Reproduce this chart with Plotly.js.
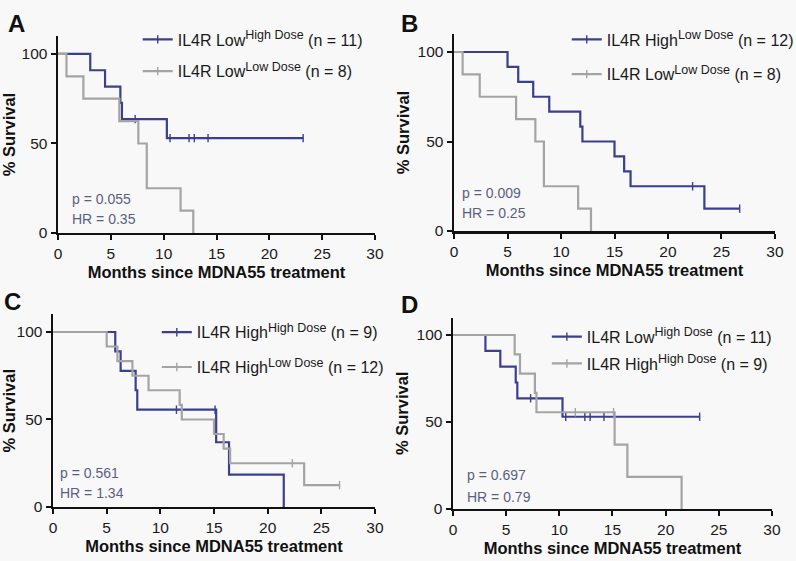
<!DOCTYPE html>
<html>
<head>
<meta charset="utf-8">
<script src="https://cdn.plot.ly/plotly-3.0.1.min.js"></script>
<style>
  html, body { margin: 0; padding: 0; background: #f8f8f8; }
  #chart { width: 796px; height: 561px; }
</style>
</head>
<body>
<div id="chart"></div>
<script>
// ---------- data ----------
// IL4R Low, High Dose (n = 11)
const lowHighTime = [0, 3.05, 4.45, 5.9, 6.05, 10.3, 23.2];
const lowHighSurv = [100, 90.9, 81.8, 72.7, 63.6, 53.0, 53.0];
const lowHighCensorTime = [7.3, 10.6, 12.4, 12.9, 14.2, 23.2];
const lowHighCensorSurv = [63.6, 53.0, 53.0, 53.0, 53.0, 53.0];

// IL4R Low, Low Dose (n = 8)
const lowLowTime = [0, 0.8, 2.4, 5.8, 7.6, 8.4, 11.6, 12.8];
const lowLowSurv = [100, 87.5, 75.0, 62.5, 50.0, 25.0, 12.5, 0];
const lowLowCensorTime = [];
const lowLowCensorSurv = [];

// IL4R High, Low Dose (n = 12)
const highLowTime = [0, 5.0, 6.0, 7.4, 8.9, 11.8, 12.0, 15.0, 15.9, 16.5, 23.4, 26.7];
const highLowSurv = [100, 91.7, 83.3, 75.0, 66.7, 58.3, 50.0, 41.7, 33.3, 25.0, 12.5, 12.5];
const highLowCensorTime = [22.3, 26.7];
const highLowCensorSurv = [25.0, 12.5];

// IL4R High, High Dose (n = 9)
const highHighTime = [0, 5.8, 6.3, 7.7, 7.85, 15.2, 16.4, 21.5];
const highHighSurv = [100, 88.9, 77.8, 66.7, 55.6, 37.0, 18.5, 0];
const highHighCensorTime = [11.5, 15.1];
const highHighCensorSurv = [55.6, 55.6];

const panelLabels = ['A', 'B', 'C', 'D'];
const pValues = ['0.055', '0.009', '0.561', '0.697'];
const hrValues = ['0.35', '0.25', '1.34', '0.79'];
const xTicks = [0, 5, 10, 15, 20, 25, 30];
const yTicks = [0, 50, 100];

const SUP = s => '<sup><span style="font-size:12.5px">' + s + '</span></sup>';

const groups = {
  lowHigh: {t: lowHighTime, s: lowHighSurv, ct: lowHighCensorTime, cs: lowHighCensorSurv,
            name: 'IL4R Low' + SUP('High Dose') + ' (n = 11)'},
  lowLow: {t: lowLowTime, s: lowLowSurv, ct: lowLowCensorTime, cs: lowLowCensorSurv,
            name: 'IL4R Low' + SUP('Low Dose') + ' (n = 8)'},
  highLow: {t: highLowTime, s: highLowSurv, ct: highLowCensorTime, cs: highLowCensorSurv,
            name: 'IL4R High' + SUP('Low Dose') + ' (n = 12)'},
  highHigh: {t: highHighTime, s: highHighSurv, ct: highHighCensorTime, cs: highHighCensorSurv,
            name: 'IL4R High' + SUP('High Dose') + ' (n = 9)'}
};

// panel composition: [blue group, grey group]
const panels = [
  ['lowHigh', 'lowLow'],
  ['highLow', 'lowLow'],
  ['highHigh', 'highLow'],
  ['lowHigh', 'highHigh']
];

const BLUE = '#3b3f8e';
const GREY = '#a4a4a4';
const FONT = 'Liberation Sans, Arial, Helvetica, sans-serif';

const traces = [];
panels.forEach((pair, i) => {
  const ax = i === 0 ? '' : String(i + 1);
  const legendId = i === 0 ? 'legend' : 'legend' + (i + 1);
  pair.forEach((key, j) => {
    const g = groups[key];
    const color = j === 0 ? BLUE : GREY;
    traces.push({
      x: g.t, y: g.s, xaxis: 'x' + ax, yaxis: 'y' + ax,
      mode: 'lines', line: {shape: 'hv', color: color, width: 2.2},
      showlegend: false, hoverinfo: 'skip', cliponaxis: false
    });
    if (g.ct.length) {
      traces.push({
        x: g.ct, y: g.cs, xaxis: 'x' + ax, yaxis: 'y' + ax,
        mode: 'markers',
        marker: {symbol: 'line-ns', size: 6, color: color, line: {color: color, width: 1.4}},
        showlegend: false, hoverinfo: 'skip', cliponaxis: false
      });
    }
    traces.push({
      x: [null], y: [null], xaxis: 'x' + ax, yaxis: 'y' + ax,
      mode: 'lines+markers', name: g.name, legend: legendId,
      legendgroup: 'p' + i + 'g' + j,
      line: {color: color, width: 2.2},
      marker: {symbol: 'line-ns', size: 6, color: color, line: {color: color, width: 1.4}}
    });
  });
});

const xDomains = [[0.0729, 0.4711], [0.5704, 0.9736], [0.0666, 0.4711], [0.5691, 0.9698]];
const yDomains = [[0.5847, 0.9357], [0.5882, 0.9392], [0.0963, 0.4394], [0.0927, 0.4339]];

const layout = {
  width: 796, height: 561,
  margin: {l: 0, r: 0, t: 0, b: 0, autoexpand: false},
  paper_bgcolor: '#f8f8f8', plot_bgcolor: '#f8f8f8',
  font: {family: FONT, color: '#1a1a1a', size: 15},
  showlegend: true,
  annotations: [],
  shapes: []
};

function axisX(i) {
  return {
    domain: xDomains[i], range: [0, 30], anchor: i === 0 ? 'y' : 'y' + (i + 1),
    tickvals: xTicks, ticktext: xTicks.map(String),
    showline: true, linecolor: '#111', linewidth: 2.5,
    ticks: 'outside', ticklen: 5, tickwidth: 2, tickcolor: '#111',
    tickfont: {size: 15.5, color: '#1a1a1a'},
    showgrid: false, zeroline: false, fixedrange: true, automargin: false,
    title: {text: '<b>Months since MDNA55 treatment</b>', font: {size: 16.5, color: '#111'}, standoff: 6}
  };
}
function axisY(i) {
  return {
    domain: yDomains[i], range: [0, 110], anchor: i === 0 ? 'x' : 'x' + (i + 1),
    tickvals: yTicks, ticktext: yTicks.map(String),
    showline: true, linecolor: '#111', linewidth: 2.5,
    ticks: 'outside', ticklen: 5, tickwidth: 2, tickcolor: '#111',
    tickfont: {size: 15.5, color: '#1a1a1a'},
    showgrid: false, zeroline: false, fixedrange: true, automargin: false,
    title: {text: '<b>% Survival</b>', font: {size: 16.5, color: '#111'}, standoff: 4}
  };
}

for (let i = 0; i < 4; i++) {
  const ax = i === 0 ? '' : String(i + 1);
  layout['xaxis' + ax] = axisX(i);
  layout['yaxis' + ax] = axisY(i);
}

// legend placements (paper coords) and gaps between entries
const legendPos = [[0.173, 0.960], [0.712, 0.960], [0.197, 0.438], [0.687, 0.430]];
const legendGap = [8, 11, 11, 3];
legendPos.forEach((p, i) => {
  const id = i === 0 ? 'legend' : 'legend' + (i + 1);
  layout[id] = {
    x: p[0], y: p[1], xanchor: 'left', yanchor: 'top',
    bgcolor: 'rgba(0,0,0,0)', font: {size: 16, color: '#1a1a1a', family: FONT},
    itemclick: false, itemdoubleclick: false, tracegroupgap: legendGap[i]
  };
});

// stats text positions (data coords within each panel)
const statPos = [[1.1, 19, 7.8], [0.55, 21, 10], [0.45, 19.5, 8], [1.1, 19.5, 7]];
statPos.forEach((p, i) => {
  const ax = i === 0 ? '' : String(i + 1);
  layout.annotations.push({
    xref: 'x' + ax, yref: 'y' + ax, x: p[0], y: p[1], xanchor: 'left', yanchor: 'middle',
    text: 'p = ' + pValues[i], showarrow: false, font: {size: 14, color: '#5a5f82'}
  });
  layout.annotations.push({
    xref: 'x' + ax, yref: 'y' + ax, x: p[0], y: p[2], xanchor: 'left', yanchor: 'middle',
    text: 'HR = ' + hrValues[i], showarrow: false, font: {size: 14, color: '#5a5f82'}
  });
});

// panel letters (paper coords)
const labelPos = [[0.008, 0.985], [0.501, 0.985], [0.003, 0.49], [0.501, 0.485]];
labelPos.forEach((p, i) => {
  layout.annotations.push({
    xref: 'paper', yref: 'paper', x: p[0], y: p[1], xanchor: 'left', yanchor: 'top',
    text: '<b>' + panelLabels[i] + '</b>', showarrow: false,
    font: {size: 24, color: '#111'}
  });
});

Plotly.newPlot('chart', traces, layout, {displayModeBar: false, staticPlot: true});
</script>
</body>
</html>
